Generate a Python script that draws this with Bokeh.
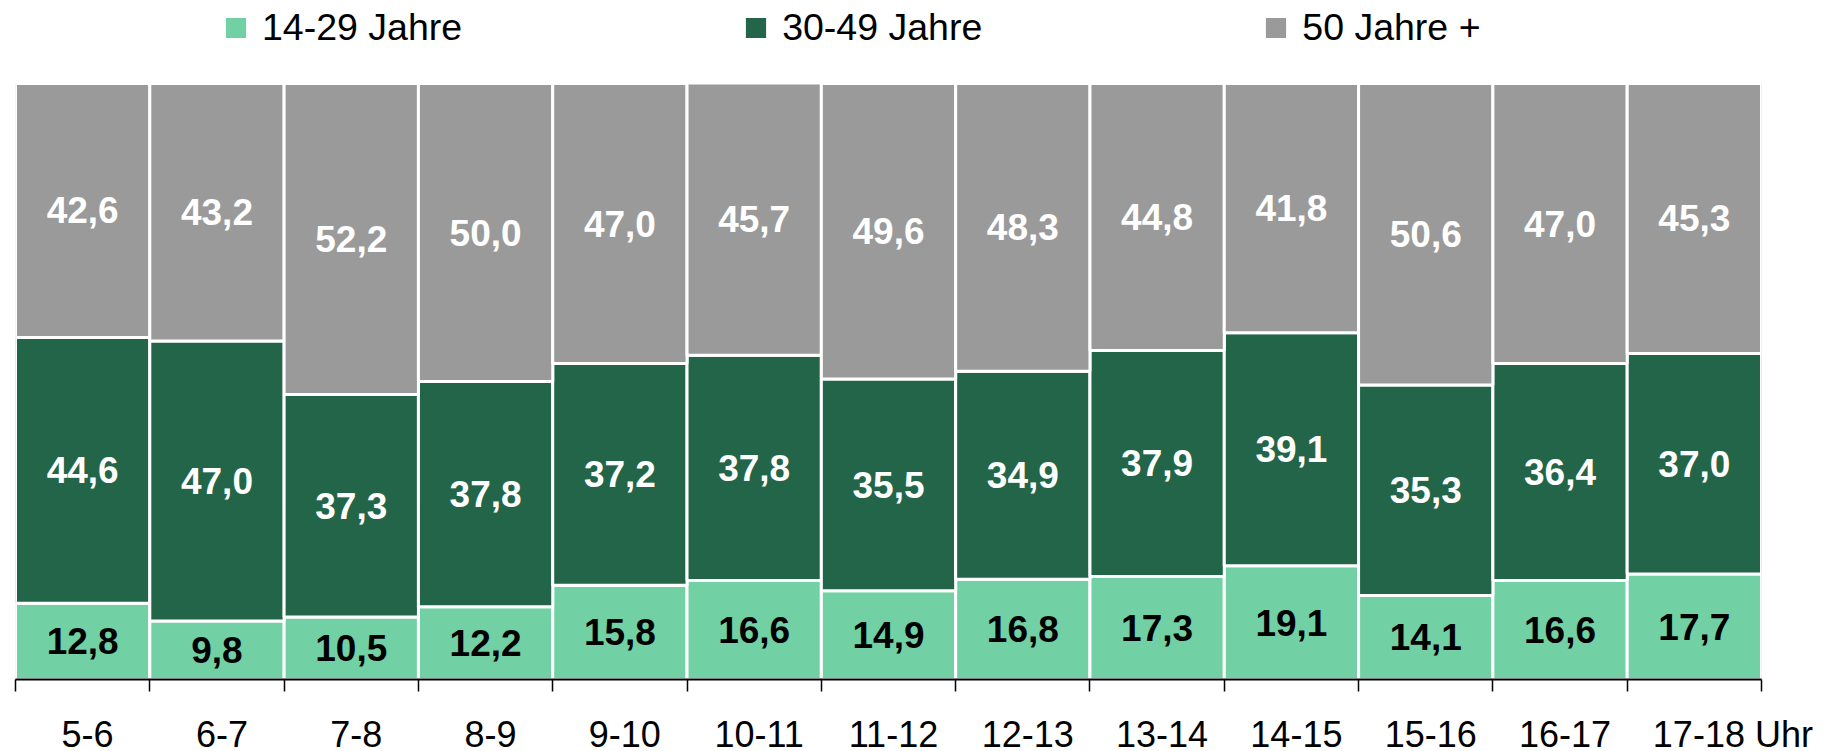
from bokeh.plotting import figure
from bokeh.models import ColumnDataSource, FixedTicker, Legend, LegendItem, Range1d
from bokeh.embed import file_html
from bokeh.resources import INLINE
from bokeh.core.properties import value

# ---- data ----
hours = ["5-6", "6-7", "7-8", "8-9", "9-10", "10-11", "11-12", "12-13",
         "13-14", "14-15", "15-16", "16-17", "17-18"]
unit_suffix = "Uhr"
young = [12.8, 9.8, 10.5, 12.2, 15.8, 16.6, 14.9, 16.8, 17.3, 19.1, 14.1, 16.6, 17.7]
middle = [44.6, 47.0, 37.3, 37.8, 37.2, 37.8, 35.5, 34.9, 37.9, 39.1, 35.3, 36.4, 37.0]
older = [42.6, 43.2, 52.2, 50.0, 47.0, 45.7, 49.6, 48.3, 44.8, 41.8, 50.6, 47.0, 45.3]
series_names = ["14-29 Jahre", "30-49 Jahre", "50 Jahre +"]

colors = ["#72D1A4", "#226548", "#9A9A9A"]
label_colors = ["black", "white", "white"]
FONT = "Liberation Sans"

n = len(hours)
xs = [i + 0.5 for i in range(n)]

# frame spans from the page top down to the axis; bars occupy the lower 596 px
FRAME_H = 679
BAR_H = 596
y_top = 100 * FRAME_H / BAR_H

p = figure(frame_width=1746, frame_height=FRAME_H,
           x_range=Range1d(0, n), y_range=Range1d(0, y_top),
           output_backend="svg", toolbar_location=None,
           y_axis_location=None,
           min_border_left=15, min_border_right=62,
           min_border_top=0, min_border_bottom=0)
p.outline_line_color = None
p.xgrid.grid_line_color = None
p.ygrid.grid_line_color = None

series = [young, middle, older]
renderers = []
base = [0.0] * n
for vals, col, lcol in zip(series, colors, label_colors):
    top = [b + v for b, v in zip(base, vals)]
    mid = [(b + t) / 2 for b, t in zip(base, top)]
    src = ColumnDataSource(dict(
        x=xs, bottom=list(base), top=top, mid=mid,
        lab=[f"{v:.1f}".replace(".", ",") for v in vals]))
    r = p.vbar(x="x", width=1, bottom="bottom", top="top", source=src,
               fill_color=col, line_color="white", line_width=3)
    p.text(x="x", y="mid", text="lab", source=src,
           text_align="center", text_baseline="middle",
           text_font=value(FONT), text_font_style="bold",
           text_font_size="37px", text_color=lcol)
    renderers.append(r)
    base = top

# x axis: boundary ticks as minor ticks, category labels as major labels
shift = 0.037
label_pos = [x + shift for x in xs]
label_txt = list(hours)
label_txt[-1] = hours[-1] + " " + unit_suffix
label_pos[-1] = xs[-1] + 0.287
ax = p.xaxis[0]
ax.ticker = FixedTicker(ticks=label_pos, minor_ticks=list(range(n + 1)))
ax.major_label_overrides = {pos: t for pos, t in zip(label_pos, label_txt)}
ax.major_tick_out = 0
ax.major_tick_in = 0
ax.minor_tick_out = 12
ax.minor_tick_in = 0
ax.minor_tick_line_color = "black"
ax.minor_tick_line_width = 1.5
ax.axis_line_color = "black"
ax.axis_line_width = 2
ax.major_label_standoff = 22
ax.major_label_text_font = FONT
ax.major_label_text_font_size = "36px"
ax.major_label_text_color = "black"

legend = Legend(items=[LegendItem(label=nm, renderers=[r])
                       for nm, r in zip(series_names, renderers)],
                orientation="horizontal", location=(206, 630),
                glyph_width=29, glyph_height=29, label_standoff=12,
                spacing=279, padding=0, margin=0,
                border_line_color=None, background_fill_alpha=0,
                label_text_font=FONT, label_text_font_size="37.5px",
                label_text_color="black")
p.add_layout(legend)

open("out.html", "w").write(file_html(p, INLINE))
